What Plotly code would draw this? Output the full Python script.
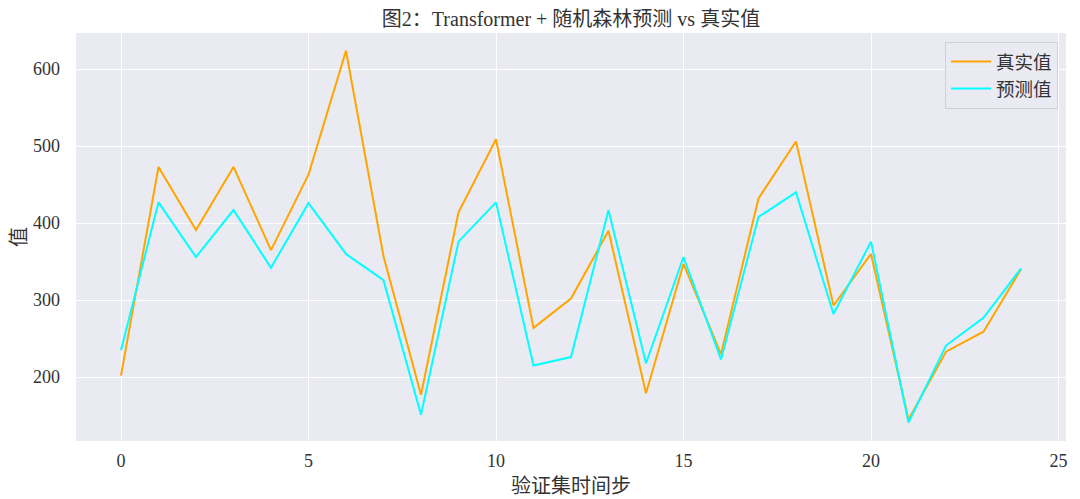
import plotly.graph_objects as go

# validation steps and the two series
steps = list(range(25))
true_vals = [202, 473, 391, 473, 365, 463, 624, 357, 177, 414,
             509, 264, 302, 390, 179, 347, 230, 432, 506, 293,
             360, 145, 233, 259, 340]
pred_vals = [235, 427, 356, 417, 342, 426, 360, 326, 151, 376,
             427, 215, 226, 417, 218, 356, 223, 408, 440, 282,
             376, 141, 241, 277, 341]

x_ticks = [0, 5, 10, 15, 20, 25]
y_ticks = [200, 300, 400, 500, 600]

font_fam = "Liberation Serif, Noto Sans CJK SC, serif"
txt_col = "#333333"

fig = go.Figure()
fig.add_trace(go.Scatter(x=steps, y=true_vals, mode="lines", name="真实值",
                         line=dict(color="orange", width=2)))
fig.add_trace(go.Scatter(x=steps, y=pred_vals, mode="lines", name="预测值",
                         line=dict(color="cyan", width=2)))

# page body adds an offset, so the figure is sized to fit the window
fig.update_layout(
    width=1072, height=491,
    margin=dict(l=68, r=14, t=25, b=58),
    paper_bgcolor="white",
    plot_bgcolor="#EAEAF2",
    font=dict(family=font_fam, size=16, color=txt_col),
    title=dict(text="图2：Transformer + 随机森林预测 vs 真实值",
               x=0.5, xanchor="center", xref="paper",
               y=0.978, yanchor="middle", automargin=False,
               font=dict(size=20, color=txt_col)),
    legend=dict(x=0.992, y=0.978, xanchor="right", yanchor="top",
                bgcolor="rgba(234,234,242,0.8)", bordercolor="#d0d0d8",
                borderwidth=1, itemwidth=40, font=dict(size=18.5, color=txt_col)),
    showlegend=True,
)
fig.update_xaxes(range=[-1.2, 25.2], tickvals=x_ticks, showgrid=True,
                 gridcolor="white", gridwidth=1.3, zeroline=False,
                 showline=False, ticks="", ticklabelstandoff=7,
                 tickfont=dict(size=18), automargin=False,
                 title=dict(text="验证集时间步", font=dict(size=20), standoff=8))
fig.update_yaxes(range=[117, 647], tickvals=y_ticks, showgrid=True,
                 gridcolor="white", gridwidth=1.3, zeroline=False,
                 showline=False, ticks="", ticklabelstandoff=15,
                 tickfont=dict(size=18), automargin=False,
                 title=dict(text="值", font=dict(size=20), standoff=8))

fig.write_html("out.html")
